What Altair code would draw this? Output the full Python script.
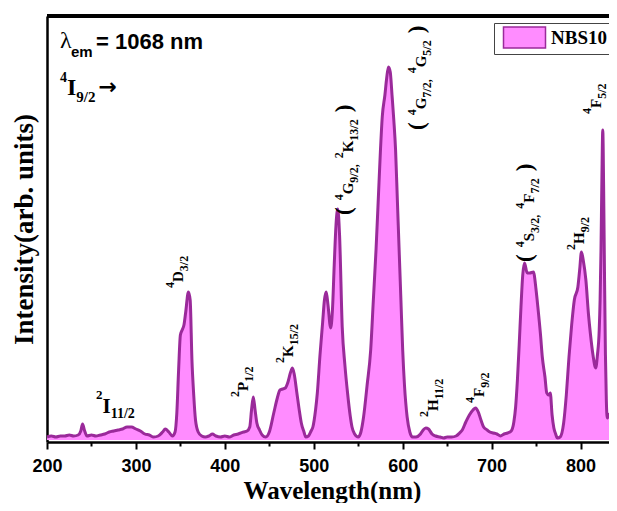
import altair as alt
import pandas as pd

# ---------------- data ----------------
WAVELENGTH = [200, 205, 210, 215, 220, 225, 230, 235, 238, 240, 242, 245, 250, 255, 260, 265, 270, 275, 280, 285,
              290, 295, 300, 305, 310, 315, 320, 325, 330, 333, 337, 341, 344, 346, 348, 350, 352, 354, 356, 359,
              361, 363, 365, 367, 370, 374, 378, 382, 386, 390, 395, 400, 405, 410, 415, 421, 425, 428, 430, 432,
              434, 436, 439, 442, 446, 450, 455, 459, 462, 465, 468, 471, 474, 476, 478, 481, 484, 486, 489, 491,
              494, 497, 499, 502, 504, 507, 510, 512, 514, 516, 519, 521, 523, 525, 527, 529, 532, 535, 538, 541,
              543, 546, 550, 553, 556, 560, 564, 567, 570, 573, 575, 577, 580, 582, 584, 586, 588, 590, 592, 594,
              596, 598, 600, 602, 605, 608, 611, 615, 620, 623, 626, 629, 633, 637, 642, 646, 650, 655, 660, 664,
              667, 671, 675, 679, 682, 685, 688, 691, 695, 698, 702, 706, 710, 714, 718, 722, 725, 727, 729, 731,
              733, 735, 737, 740, 743, 747, 750, 752, 755, 757, 760, 762, 764, 766, 768, 770, 772, 774, 777, 781,
              784, 787, 790, 793, 797, 799, 801, 803, 806, 809, 811, 814, 817, 819, 821, 822, 823, 824, 825, 826,
              827, 828, 829, 830, 832, 834, 836, 838, 840, 842]
INTENSITY = [3, 4, 3, 4, 4, 5, 4, 5, 9, 16, 10, 4, 5, 4, 5, 6, 8, 9, 10, 11,
             13, 13, 11, 9, 6, 5, 3, 4, 8, 11, 8, 4, 8, 27, 70, 105, 110, 115, 128, 148,
             140, 80, 45, 20, 8, 4, 3, 4, 6, 4, 3, 4, 3, 5, 6, 8, 9, 13, 30, 43,
             30, 17, 10, 5, 3, 8, 27, 42, 50, 51, 52, 58, 68, 72, 66, 47, 28, 17, 8, 3,
             4, 9, 13, 30, 47, 85, 118, 140, 148, 135, 112, 130, 175, 215, 231, 205, 113, 75, 47, 24,
             13, 6, 3, 8, 23, 55, 90, 140, 190, 250, 290, 323, 345, 362, 373, 368, 345, 320, 290, 240,
             190, 140, 90, 55, 23, 8, 3, 3, 6, 10, 12, 11, 6, 4, 3, 2, 3, 3, 4, 7,
             10, 18, 25, 30, 32, 28, 20, 13, 10, 8, 7, 6, 4, 6, 7, 9, 18, 33, 60, 95,
             133, 165, 177, 167, 167, 168, 150, 133, 105, 83, 63, 47, 45, 47, 25, 12, 6, 2, 3, 17,
             45, 83, 115, 140, 153, 170, 188, 180, 160, 125, 107, 85, 72, 85, 110, 140, 190, 260, 310, 250,
             160, 85, 40, 22, 25, 27, 14, 6, 3, 3]
SERIES = "NBS10"

X_DOMAIN = [200, 841]
Y_DOMAIN = [-2, 424]
X_TICKS = [200, 250, 300, 350, 400, 450, 500, 550, 600, 650, 700, 750, 800]

X_TITLE = "Wavelength(nm)"
Y_TITLE = "Intensity(arb. units)"

SERIF = "Liberation Serif"
SANS = "Liberation Sans"
PINK = "#FF8CFF"
PURPLE = "#9A2A9A"

# transition labels: parts (text, role), anchor (wavelength, intensity), angle
ROT = {"m": 15, "u": 12, "b": 12, "p": 23}
ROT_DY = {"m": 0, "u": -9.5, "b": 5, "p": -2}
LABELS = [
    {"parts": [("4", "u"), ("D", "m"), ("3/2", "b")], "x": 353.2, "y": 152},
    {"parts": [("2", "u"), ("P", "m"), ("1/2", "b")], "x": 426.5, "y": 43},
    {"parts": [("2", "u"), ("K", "m"), ("15/2", "b")], "x": 477.2, "y": 77},
    {"parts": [("(", "p"), (7, "g"), ("4", "u"), ("G", "m"), ("9/2,", "b"), (6, "g"),
               ("2", "u"), ("K", "m"), ("13/2", "b"), (7, "g"), (")", "p")], "x": 543.7, "y": 225},
    {"parts": [("(", "p"), (7, "g"), ("4", "u"), ("G", "m"), ("7/2,", "b"), (6, "g"),
               ("4", "u"), ("G", "m"), ("5/2", "b"), (7, "g"), (")", "p")], "x": 625.9, "y": 310},
    {"parts": [("2", "u"), ("H", "m"), ("11/2", "b")], "x": 639.4, "y": 23},
    {"parts": [("4", "u"), ("F", "m"), ("9/2", "b")], "x": 691.3, "y": 37},
    {"parts": [("(", "p"), (7, "g"), ("4", "u"), ("S", "m"), ("3/2,", "b"), (6, "g"),
               ("4", "u"), ("F", "m"), ("7/2", "b"), (7, "g"), (")", "p")], "x": 747.6, "y": 178},
    {"parts": [("2", "u"), ("H", "m"), ("9/2", "b")], "x": 804.0, "y": 190},
    {"parts": [("4", "u"), ("F", "m"), ("5/2", "b")], "x": 823.0, "y": 326},
]
for lab in LABELS:
    lab.update({"angle": 270, "size": ROT, "dy": ROT_DY})

LABELS.append({"parts": [("2", "u"), ("I", "m"), ("11/2", "b")], "x": 255.2, "y": 27, "angle": 0,
               "size": {"m": 21, "u": 13, "b": 14}, "dy": {"m": 0, "u": -14, "b": 5}})
LABELS.append({"parts": [("4", "u"), ("I", "m"), ("9/2", "b"), (3, "g"), ("\u2192", "a")],
               "x": 214.6, "y": 345, "angle": 0,
               "size": {"m": 24, "u": 14, "b": 15, "a": 22}, "dy": {"m": 0, "u": -13, "b": 7, "a": -1},
               "font": {"a": "DejaVu Sans"}})

# lambda_em label pieces: text, font, weight, size, dx, dy
LAMBDA_X, LAMBDA_Y = 214.6, 392
LAMBDA_PARTS = [("\u03bb", SERIF, "normal", 24, 0, 0),
                ("em", SANS, "bold", 15, 11, 9),
                ("= 1068 nm", SANS, "bold", 22, 36, 1)]

# Times/Liberation Serif bold advance widths (em)
W = {"0": .5, "1": .5, "2": .5, "3": .5, "4": .5, "5": .5, "6": .5, "7": .5, "8": .5, "9": .5,
     "/": .278, ",": .25, " ": .25, "(": .333, ")": .333, "D": .722, "P": .611, "K": .778,
     "G": .778, "H": .778, "F": .611, "S": .556, "I": .389, "\u2192": .84}


def text_width(s):
    return sum(W.get(c, .5) for c in s)


def label_layers(spec):
    df = pd.DataFrame({"wavelength": [spec["x"]], "intensity": [spec["y"]]})
    fonts = spec.get("font", {})
    off = 0.0
    out = []
    for text, role in spec["parts"]:
        if role == "g":
            off += text
            continue
        fs = spec["size"][role]
        out.append(
            alt.Chart(df).mark_text(text=text, font=fonts.get(role, SERIF), fontWeight="bold", fontSize=fs,
                                    angle=spec["angle"], align="left", baseline="alphabetic",
                                    dx=off, dy=spec["dy"][role], color="black")
            .encode(x="wavelength:Q", y="intensity:Q")
        )
        off += text_width(text) * fs
    return out


spec_df = pd.DataFrame({"wavelength": WAVELENGTH, "intensity": INTENSITY, "series": SERIES})

x_enc = alt.X("wavelength:Q", scale=alt.Scale(domain=X_DOMAIN, nice=False, zero=False),
              axis=alt.Axis(title=X_TITLE, values=X_TICKS, grid=False,
                            labelExpr="datum.value % 100 === 0 ? datum.label : ''",
                            labelFont=SANS, labelFontWeight="bold", labelFontSize=18, labelColor="black",
                            labelPadding=8, labelFlush=False,
                            tickSize={"condition": {"test": "datum.value % 100 === 0", "value": 7}, "value": 4},
                            tickWidth=2, tickColor="black", domainColor="black", domainWidth=2.5,
                            titleFont=SERIF, titleFontWeight="bold", titleFontSize=25, titleColor="black",
                            titlePadding=3))
y_enc = alt.Y("intensity:Q", scale=alt.Scale(domain=Y_DOMAIN, nice=False, zero=False),
              axis=alt.Axis(title=Y_TITLE, labels=False, ticks=False, grid=False,
                            domainColor="black", domainWidth=2.5,
                            titleFont=SERIF, titleFontWeight="bold", titleFontSize=27, titleColor="black",
                            titlePadding=9))

area = alt.Chart(spec_df).mark_area(interpolate="monotone", opacity=1).encode(
    x=x_enc, y=y_enc,
    color=alt.Color("series:N", scale=alt.Scale(domain=[SERIES], range=[PINK]),
                    legend=alt.Legend(title=None, orient="none", legendX=447, legendY=7,
                                      symbolType="M-2,-1L2,-1L2,1L-2,1Z", symbolSize=441,
                                      symbolStrokeColor=PURPLE, symbolStrokeWidth=1.5,
                                      symbolOffset=16, labelOffset=15,
                                      labelFont=SERIF, labelFontWeight="bold", labelFontSize=19,
                                      labelColor="black", strokeColor="#444", fillColor="white",
                                      padding=3)),
)
line = alt.Chart(spec_df).mark_line(interpolate="monotone", color=PURPLE, strokeWidth=3).encode(
    x="wavelength:Q", y="intensity:Q")
top = alt.Chart(spec_df).mark_rule(color="black", strokeWidth=2.5).encode(y=alt.datum(Y_DOMAIN[1]))

texts = []
for lab in LABELS:
    texts += label_layers(lab)
lam_df = pd.DataFrame({"wavelength": [LAMBDA_X], "intensity": [LAMBDA_Y]})
for text, font, weight, fs, dx, dy in LAMBDA_PARTS:
    texts.append(alt.Chart(lam_df).mark_text(text=text, font=font, fontWeight=weight, fontSize=fs,
                                             align="left", baseline="alphabetic", dx=dx, dy=dy,
                                             color="black")
                 .encode(x="wavelength:Q", y="intensity:Q"))

chart = alt.layer(area, line, top, *texts).properties(
    width=570, height=426,
    padding={"left": 39, "top": 8, "right": -8, "bottom": 61},
    autosize=alt.AutoSizeParams(type="none"),
    background="white",
).configure_view(stroke=None)

chart.save("out.html", embed_options={"renderer": "svg", "actions": False})
